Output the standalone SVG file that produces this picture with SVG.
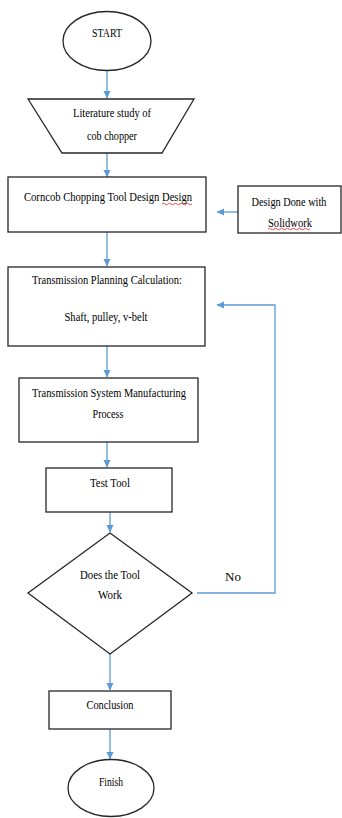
<svg xmlns="http://www.w3.org/2000/svg" width="342" height="818" viewBox="0 0 342 818">
<style>
.n{fill:#fff;stroke:#262626;stroke-width:1.3}
.t{font-family:"Liberation Serif","Times New Roman",serif;font-size:13px;fill:#000;text-anchor:middle}
.s{font-size:12px}
.c{fill:none;stroke:#5b9bd5;stroke-width:1.3}
.sq{fill:none;stroke:#e02020;stroke-width:0.8}
</style>
<defs>
<marker id="ah" markerWidth="8" markerHeight="8" refX="7" refY="4" orient="auto" markerUnits="userSpaceOnUse">
<path d="M0,0.5 L7.5,4 L0,7.5 Z" fill="#5b9bd5"/>
</marker>
</defs>
<rect width="342" height="818" fill="#fff"/>
<g id="connectors">
<line class="c" x1="107" y1="71" x2="107" y2="98" marker-end="url(#ah)"/>
<line class="c" x1="107" y1="153" x2="107" y2="177" marker-end="url(#ah)"/>
<line class="c" x1="238" y1="212" x2="217" y2="212" marker-end="url(#ah)"/>
<line class="c" x1="107" y1="232" x2="107" y2="266" marker-end="url(#ah)"/>
<line class="c" x1="107" y1="346" x2="107" y2="377" marker-end="url(#ah)"/>
<line class="c" x1="107" y1="442" x2="107" y2="467" marker-end="url(#ah)"/>
<line class="c" x1="110" y1="512" x2="110" y2="532" marker-end="url(#ah)"/>
<polyline class="c" points="197,593 275,593 275,305 217,305" marker-end="url(#ah)"/>
<line class="c" x1="110" y1="654" x2="110" y2="690" marker-end="url(#ah)"/>
<line class="c" x1="110" y1="729" x2="110" y2="759" marker-end="url(#ah)"/>
<text class="t" x="233" y="581">No</text>
</g>
<g id="start">
<ellipse class="n" cx="107" cy="41" rx="44" ry="29.5"/>
<text class="t" x="107" y="37" textLength="30" lengthAdjust="spacingAndGlyphs">START</text>
</g>
<g id="literature">
<polygon class="n" points="28,99 194,99 162,153 62,153"/>
<text class="t" x="112" y="117" textLength="78" lengthAdjust="spacingAndGlyphs">Literature study of</text>
<text class="t" x="112" y="140" textLength="50" lengthAdjust="spacingAndGlyphs">cob chopper</text>
</g>
<g id="design">
<rect class="n" x="8" y="177" width="198" height="55"/>
<text class="t" x="108" y="201" textLength="168" lengthAdjust="spacingAndGlyphs">Corncob Chopping Tool Design Design</text>
<path class="sq" d="M162,204 q1.5,-1.5 3,0 t3,0 t3,0 t3,0 t3,0 t3,0 t3,0 t3,0 t3,0 t3,0"/>
</g>
<g id="solidwork">
<rect class="n" x="238" y="186" width="103" height="47"/>
<text class="t s" x="289" y="206" textLength="75" lengthAdjust="spacingAndGlyphs">Design Done with</text>
<text class="t s" x="290" y="227" textLength="44" lengthAdjust="spacingAndGlyphs">Solidwork</text>
<path class="sq" d="M268,229 q1.5,-1.5 3,0 t3,0 t3,0 t3,0 t3,0 t3,0 t3,0 t3,0 t3,0 t3,0 t3,0 t3,0 t3,0 t3,0"/>
</g>
<g id="transmission-planning">
<rect class="n" x="8" y="267" width="197" height="79"/>
<text class="t" x="107" y="284" textLength="150" lengthAdjust="spacingAndGlyphs">Transmission Planning Calculation:</text>
<text class="t" x="106" y="321" textLength="83" lengthAdjust="spacingAndGlyphs">Shaft, pulley, v-belt</text>
</g>
<g id="manufacturing">
<rect class="n" x="19" y="378" width="179" height="64"/>
<text class="t" x="109" y="397" textLength="154" lengthAdjust="spacingAndGlyphs">Transmission System Manufacturing</text>
<text class="t" x="108" y="418" textLength="31" lengthAdjust="spacingAndGlyphs">Process</text>
</g>
<g id="test-tool">
<rect class="n" x="46" y="468" width="126" height="44"/>
<text class="t" x="110" y="487" textLength="40" lengthAdjust="spacingAndGlyphs">Test Tool</text>
</g>
<g id="decision">
<polygon class="n" points="110,533 192,593 110,654 28,593"/>
<text class="t" x="110" y="579" textLength="60" lengthAdjust="spacingAndGlyphs">Does the Tool</text>
<text class="t" x="110" y="599" textLength="24" lengthAdjust="spacingAndGlyphs">Work</text>
</g>
<g id="conclusion">
<rect class="n" x="49" y="691" width="122" height="38"/>
<text class="t" x="110" y="709" textLength="47" lengthAdjust="spacingAndGlyphs">Conclusion</text>
</g>
<g id="finish">
<ellipse class="n" cx="111" cy="788" rx="43" ry="28.5"/>
<text class="t" x="111" y="786" textLength="24" lengthAdjust="spacingAndGlyphs">Finish</text>
</g>
</svg>
